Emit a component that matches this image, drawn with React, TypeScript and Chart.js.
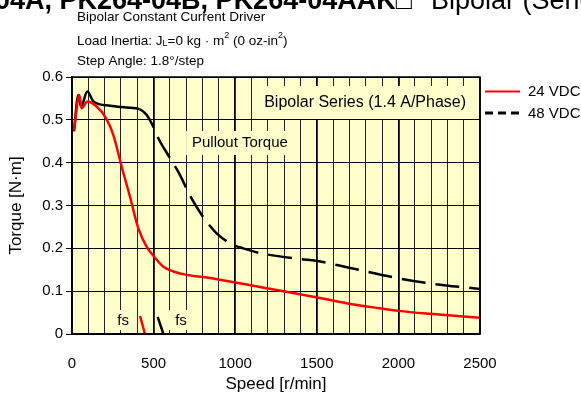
import React, { useEffect, useRef } from "react";
import { Chart, registerables } from "chart.js";

Chart.register(...registerables);

const speeds24 = [12, 45, 59, 94, 151, 208, 253, 304, 355, 406, 457, 502, 560, 621, 703, 825, 1001, 1193, 1397, 1495, 1683, 1887, 2000, 2194, 2500];
const torque24 = [0.475, 0.558, 0.527, 0.543, 0.531, 0.504, 0.465, 0.391, 0.321, 0.247, 0.204, 0.181, 0.157, 0.146, 0.138, 0.132, 0.12, 0.107, 0.093, 0.086, 0.072, 0.06, 0.054, 0.047, 0.038];
const speeds48 = [12, 39, 55, 94, 131, 233, 335, 413, 457, 502, 529, 600, 662, 720, 795, 886, 988, 1050, 1152, 1397, 1495, 1683, 2000, 2194, 2500];
const torque48 = [0.473, 0.558, 0.531, 0.566, 0.543, 0.533, 0.529, 0.525, 0.512, 0.481, 0.457, 0.411, 0.371, 0.325, 0.278, 0.235, 0.208, 0.2, 0.189, 0.175, 0.171, 0.156, 0.13, 0.118, 0.105];
const fsSpeeds24 = [417, 447];
const fsTorque24 = [0.042, 0];
const fsSpeeds48 = [525, 560];
const fsTorque48 = [0.04, 0];
const seriesLabels = ["24 VDC", "48 VDC"];
const subtitleLines = ["Bipolar Constant Current Driver", "Step Angle: 1.8°/step"];
const partTitle = "PK264-04A, PK264-04B, PK264-04AAK□";
const titleTail = "Bipolar (Series)";
const seriesNote = "Bipolar Series (1.4 A/Phase)";
const pulloutNote = "Pullout Torque";
const fsNote = "fs";

const FONT = '"Liberation Sans", Arial, sans-serif';
const BG = "#FFFFCC";

const pts = (xs: number[], ys: number[]) => xs.map((x, i) => ({ x, y: ys[i] }));

const decor = {
  id: "decor",
  beforeDraw(chart: any) {
    const { ctx, chartArea: a } = chart;
    ctx.save();
    ctx.fillStyle = BG;
    ctx.fillRect(a.left, a.top, a.right - a.left, a.bottom - a.top);
    ctx.restore();
  },
  beforeDatasetsDraw(chart: any) {
    const { ctx } = chart;
    const xs = chart.scales.x;
    const ys = chart.scales.y;
    const box = (x0: number, x1: number, y0: number, y1: number) => {
      const px0 = xs.getPixelForValue(x0);
      const px1 = xs.getPixelForValue(x1);
      const py0 = ys.getPixelForValue(y0);
      const py1 = ys.getPixelForValue(y1);
      ctx.fillStyle = BG;
      ctx.fillRect(px0, py0, px1 - px0, py1 - py0);
    };
    const text = (s: string, x: number, y: number, size: number) => {
      ctx.font = `${size}px ${FONT}`;
      ctx.fillStyle = "#000";
      ctx.textAlign = "center";
      ctx.textBaseline = "middle";
      ctx.fillText(s, xs.getPixelForValue(x), ys.getPixelForValue(y));
    };
    ctx.save();
    box(1121, 2488, 0.579, 0.502);
    box(699, 1360, 0.474, 0.418);
    box(251, 374, 0.056, 0.009);
    box(588, 735, 0.056, 0.009);
    text(seriesNote, 1796, 0.54, 16);
    text(pulloutNote, 1029, 0.446, 15);
    text(fsNote, 313, 0.03, 15);
    text(fsNote, 668, 0.03, 15);
    ctx.restore();
  },
  afterDatasetsDraw(chart: any) {
    const { ctx, chartArea: a } = chart;
    ctx.save();
    ctx.strokeStyle = "#000";
    ctx.lineWidth = 1.5;
    ctx.strokeRect(a.left, a.top, a.right - a.left, a.bottom - a.top);
    ctx.restore();
  },
  afterDraw(chart: any) {
    const { ctx } = chart;
    ctx.save();
    ctx.fillStyle = "#000";
    ctx.textBaseline = "alphabetic";
    ctx.font = `bold 27px ${FONT}`;
    ctx.textAlign = "right";
    ctx.fillText(partTitle, 412, 9);
    ctx.font = `27px ${FONT}`;
    ctx.textAlign = "left";
    ctx.fillText(titleTail, 431, 9);

    ctx.font = `13.5px ${FONT}`;
    ctx.textBaseline = "middle";
    ctx.fillText(subtitleLines[0], 77, 17.5);
    let x = 77;
    const y = 41;
    const put = (s: string, size: number, dy: number) => {
      ctx.font = `${size}px ${FONT}`;
      ctx.fillText(s, x, y + dy);
      x += ctx.measureText(s).width;
    };
    put("Load Inertia: J", 13.5, 0);
    put("L", 9, 3);
    put("=0 kg", 13.5, 0);
    put(" · ", 13.5, 0);
    put("m", 13.5, 0);
    put("2", 9, -5);
    put(" (0 oz-in", 13.5, 0);
    put("2", 9, -5);
    put(")", 13.5, 0);
    ctx.font = `13.5px ${FONT}`;
    ctx.fillText(subtitleLines[1], 77, 61.5);

    ctx.lineWidth = 2;
    ctx.strokeStyle = "#FF0000";
    ctx.beginPath();
    ctx.moveTo(485, 91.5);
    ctx.lineTo(520, 91.5);
    ctx.stroke();
    ctx.strokeStyle = "#000";
    ctx.lineWidth = 3;
    ctx.setLineDash([8, 5]);
    ctx.beginPath();
    ctx.moveTo(485, 113);
    ctx.lineTo(520, 113);
    ctx.stroke();
    ctx.setLineDash([]);
    ctx.font = `15px ${FONT}`;
    ctx.textAlign = "left";
    ctx.fillStyle = "#000";
    ctx.fillText(seriesLabels[0], 528, 92);
    ctx.fillText(seriesLabels[1], 528, 113.5);
    ctx.restore();
  },
};

export default function App() {
  const ref = useRef<HTMLCanvasElement>(null);
  useEffect(() => {
    if (!ref.current) return;
    const chart = new Chart(ref.current, {
      type: "line",
      data: {
        datasets: [
          {
            label: seriesLabels[0],
            data: pts(speeds24, torque24),
            borderColor: "#FF0000",
            borderWidth: 2.5,
            pointRadius: 0,
            cubicInterpolationMode: "monotone",
            fill: false,
          },
          {
            label: seriesLabels[1],
            data: pts(speeds48, torque48),
            borderColor: "#000000",
            borderWidth: 2.5,
            pointRadius: 0,
            cubicInterpolationMode: "monotone",
            fill: false,
            segment: {
              borderDash: (c: any) => (c.p0.parsed.x < 413 ? [] : [24, 10]),
            },
          },
          {
            label: "fs24",
            data: pts(fsSpeeds24, fsTorque24),
            borderColor: "#FF0000",
            borderWidth: 2.5,
            pointRadius: 0,
          },
          {
            label: "fs48",
            data: pts(fsSpeeds48, fsTorque48),
            borderColor: "#000000",
            borderWidth: 2.5,
            pointRadius: 0,
          },
        ],
      } as any,
      options: {
        animation: false,
        responsive: false,
        devicePixelRatio: window.devicePixelRatio || 1,
        layout: { padding: { top: 77, right: 101, left: 0, bottom: 0 } },
        plugins: { legend: { display: false }, tooltip: { enabled: false }, title: { display: false } },
        scales: {
          x: {
            type: "linear",
            min: 0,
            max: 2500,
            afterFit: (s: any) => {
              s.height = 70;
            },
            border: { display: true, color: "#000", width: 1.5 },
            grid: {
              drawTicks: false,
              color: (c: any) => (c.tick && c.tick.value % 500 === 0 ? "#000" : "#222"),
              lineWidth: (c: any) => (c.tick && c.tick.value % 500 === 0 ? 1.8 : 1),
            },
            ticks: {
              stepSize: 100,
              autoSkip: false,
              maxRotation: 0,
              padding: 21,
              color: "#000",
              font: { family: FONT, size: 15 },
              callback: (v: any) => (Number(v) % 500 === 0 ? String(v) : ""),
            },
            title: {
              display: true,
              text: "Speed [r/min]",
              color: "#000",
              font: { family: FONT, size: 17 },
              padding: { top: 0, bottom: 9 },
            },
          },
          y: {
            type: "linear",
            min: 0,
            max: 0.6,
            afterFit: (s: any) => {
              s.width = 72;
            },
            border: { display: true, color: "#000", width: 1.5 },
            grid: { color: "#000", lineWidth: 1, drawTicks: true, tickLength: 6 },
            ticks: {
              stepSize: 0.1,
              padding: 3,
              color: "#000",
              font: { family: FONT, size: 15 },
              callback: (v: any) => (Math.abs(Number(v)) < 1e-9 ? "0" : Number(v).toFixed(1)),
            },
            title: {
              display: true,
              text: "Torque [N·m]",
              color: "#000",
              font: { family: FONT, size: 17 },
              padding: { top: 6.5, bottom: 0 },
            },
          },
        },
      } as any,
      plugins: [decor],
    });
    return () => chart.destroy();
  }, []);
  return (
    <div style={{ position: "fixed", left: 0, top: 0, width: 581, height: 404, background: "#fff" }}>
      <canvas ref={ref} width={581} height={404} style={{ display: "block", width: 581, height: 404 }} />
    </div>
  );
}
